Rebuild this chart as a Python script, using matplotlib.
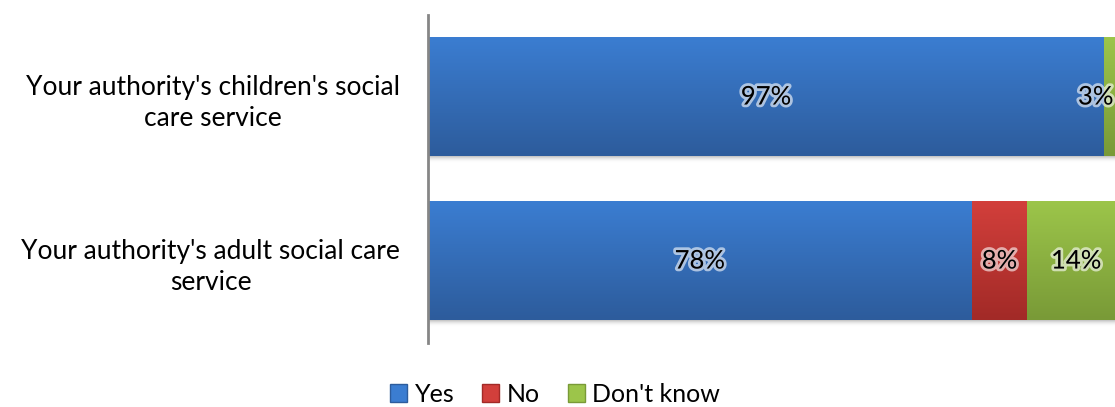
import numpy as np
import matplotlib.pyplot as plt
import matplotlib.patheffects as pe
from matplotlib.patches import Patch
from matplotlib.colors import LinearSegmentedColormap

plt.rcParams['font.family'] = ['Lato', 'DejaVu Sans']

# datos (de abajo hacia arriba)
categories = ["Your authority's adult social care\nservice",
              "Your authority's children's social\ncare service"]
series = ["Yes", "No", "Don't know"]
yes = [78, 97]
no = [8, 0]
dont_know = [14, 3]

# colores degradados (arriba, abajo)
grads = [("#3b7dd1", "#2d5c9c"), ("#d23f3b", "#a22a27"), ("#9cc54a", "#799a37")]

fig = plt.figure(figsize=(11.15, 4.07), dpi=100)
ax = fig.add_axes([428 / 1115, 64 / 407, 697 / 1115, 328 / 407])

h = 0.72
y = np.arange(len(categories))
left = np.zeros(len(categories))
vis_max = 100 * (1115 - 428) / 697

for vals, (c_top, c_bot) in zip([yes, no, dont_know], grads):
    cmap = LinearSegmentedColormap.from_list("g", [c_bot, c_top])
    grad = np.linspace(0, 1, 100).reshape(-1, 1)
    for i, v in enumerate(vals):
        if v == 0:
            continue
        ax.imshow(grad, cmap=cmap, origin='lower', aspect='auto',
                  extent=(left[i], left[i] + v, y[i] - h / 2, y[i] + h / 2),
                  zorder=2)
        cx = left[i] + v / 2
        ha = 'center'
        if cx + 2.5 > vis_max:
            cx, ha = vis_max - 0.2, 'right'
        ax.text(cx, y[i], f"{v}%", ha=ha, va='center', fontsize=18.5,
                color='black', zorder=4,
                path_effects=[pe.withStroke(linewidth=4, foreground=(1, 1, 1, 0.6))])
    left += np.array(vals)

# sombra debajo de las barras
shadow = LinearSegmentedColormap.from_list("s", [(1, 1, 1, 0), (0.6, 0.6, 0.6, 0.6)])
for i in range(len(categories)):
    ax.imshow(np.linspace(0, 1, 20).reshape(-1, 1), cmap=shadow, origin='lower',
              aspect='auto', extent=(0, 100, y[i] - h / 2 - 0.04, y[i] - h / 2),
              zorder=1)

ax.set_xlim(0, 100)
ax.set_ylim(-0.5, 1.5)
ax.set_xticks([])
ax.set_yticks(y)
ax.set_yticklabels(categories, fontsize=19, multialignment='center', linespacing=1.35)
ax.tick_params(axis='y', length=0, pad=20)
for s in ['top', 'right', 'bottom']:
    ax.spines[s].set_visible(False)
ax.spines['left'].set_color('#868686')
ax.spines['left'].set_linewidth(2)

handles = [Patch(facecolor=g[0], edgecolor=g[1], label=s) for s, g in zip(series, grads)]
fig.legend(handles=handles, loc='center', bbox_to_anchor=(555 / 1115, 13 / 407),
           ncol=3, frameon=False, fontsize=18, handlelength=0.7, handleheight=0.7,
           handletextpad=0.3, columnspacing=1.1, borderpad=0.2)

fig.savefig('out.png', dpi=100)
